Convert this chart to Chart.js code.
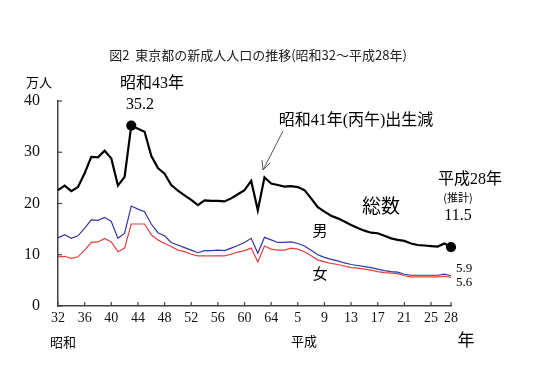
<!DOCTYPE html>
<html>
<head>
<meta charset="utf-8">
<script src="https://cdn.jsdelivr.net/npm/chart.js@4/dist/chart.umd.min.js"></script>
<style>
html,body{margin:0;padding:0;background:#fff;}
#wrap{width:534px;height:378px;}
</style>
</head>
<body>
<div id="wrap"><canvas id="c" width="534" height="378"></canvas></div>
<script>
// ---- data ----
const categories = ['32','33','34','35','36','37','38','39','40','41','42','43','44','45','46','47','48','49','50','51','52','53','54','55','56','57','58','59','60','61','62','63','64',
  '2','3','4','5','6','7','8','9','10','11','12','13','14','15','16','17','18','19','20','21','22','23','24','25','26','27','28'];
const totalValues = [22.6,23.5,22.4,23.2,25.9,29.1,29.0,30.3,28.8,23.5,25.2,35.2,34.6,34.0,29.3,26.9,25.8,23.6,22.5,21.6,20.7,19.7,20.6,20.5,20.5,20.4,21.0,21.8,22.6,24.4,18.7,25.1,23.9,23.6,23.3,23.4,23.2,22.6,21.0,19.3,18.4,17.6,17.1,16.5,15.8,15.2,14.7,14.3,14.2,13.7,13.2,12.9,12.7,12.2,11.9,11.8,11.7,11.6,12.2,11.5];
const maleValues = [13.3,13.9,13.2,13.7,15.2,16.8,16.7,17.3,16.5,13.2,14.2,19.5,18.9,18.4,16.0,14.3,13.7,12.4,11.9,11.4,10.9,10.4,10.8,10.8,10.9,10.8,11.3,11.8,12.4,13.2,10.3,13.4,12.9,12.4,12.4,12.5,12.2,11.7,10.9,10.0,9.5,9.1,8.8,8.4,8.1,7.9,7.7,7.5,7.2,6.9,6.7,6.6,6.2,6.0,6.0,6.0,6.0,6.0,6.2,5.9];
const femaleValues = [9.6,9.7,9.3,9.6,10.9,12.4,12.5,13.2,12.5,10.6,11.3,16.0,16.0,16.0,13.9,12.9,12.2,11.6,10.9,10.6,10.1,9.8,9.8,9.8,9.8,9.8,10.1,10.5,10.8,11.3,8.6,11.7,11.1,10.9,10.9,11.3,11.1,10.6,9.8,9.0,8.6,8.3,8.1,7.8,7.5,7.4,7.2,7.0,6.7,6.5,6.4,6.3,5.9,5.7,5.7,5.7,5.7,5.7,5.8,5.6];
const shownTickIndex = [0,4,8,12,16,20,24,28,32,36,40,44,48,52,56,59];
const markedIndex = [11,59];
const yTicks = [0,10,20,30,40];

const titleText = '図2  東京都の新成人人口の推移(昭和32～平成28年)';

const SERIF = '"Liberation Serif","Noto Sans CJK JP"';
const GOTHIC = '"Noto Sans CJK JP"';

const annot = {
  id: 'annot',
  afterDraw(chart) {
    const c = chart.ctx, xs = chart.scales.x, ys = chart.scales.y, a = chart.chartArea;
    c.save();
    // inward tick marks
    c.strokeStyle = '#444'; c.lineWidth = 1.2;
    yTicks.forEach(v => { const py = ys.getPixelForValue(v); c.beginPath(); c.moveTo(a.left, py); c.lineTo(a.left + 4, py); c.stroke(); });
    shownTickIndex.forEach(i => { const px = xs.getPixelForValue(i); c.beginPath(); c.moveTo(px, a.bottom); c.lineTo(px, a.bottom - 4); c.stroke(); });

    c.fillStyle = '#000'; c.textAlign = 'center'; c.textBaseline = 'middle';
    // title
    c.font = '13px ' + GOTHIC; c.fillStyle = '#222';
    c.fillText(titleText, 258, 55);
    c.fillStyle = '#000';
    // unit
    c.font = '13px ' + GOTHIC; c.fillText('万人', 39, 82);
    // era labels
    c.font = '13px ' + GOTHIC;
    c.fillText('昭和', 63, 342);
    c.fillText('平成', 304, 341);
    c.font = '17px ' + GOTHIC; c.fillText('年', 466, 340);
    // peak
    c.font = '16px ' + SERIF; c.fillText('昭和43年', 152, 84);
    c.fillText('35.2', 140, 105);
    // hinoeuma
    c.fillText('昭和41年(丙午)出生減', 356, 121);
    // arrow
    c.strokeStyle = '#555'; c.lineWidth = 1;
    c.beginPath(); c.moveTo(283, 131); c.lineTo(263, 170); c.stroke();
    c.beginPath(); c.moveTo(263, 170); c.lineTo(262, 160); c.moveTo(263, 170); c.lineTo(270, 163); c.stroke();
    // latest
    c.fillText('平成28年', 470, 180);
    c.font = '11px ' + GOTHIC; c.fillText('(推計)', 458, 198);
    c.font = '16px ' + SERIF; c.fillText('11.5', 458, 216);
    // series labels
    c.font = '19px ' + GOTHIC; c.fillText('総数', 381, 206);
    c.font = '15px ' + GOTHIC; c.fillText('男', 320, 230); c.fillText('女', 320, 273);
    c.font = '13px ' + SERIF; c.fillText('5.9', 464, 269); c.fillText('5.6', 464, 283);
    c.restore();
  }
};

new Chart(document.getElementById('c'), {
  type: 'line',
  data: {
    labels: categories,
    datasets: [
      { label: '総数', data: totalValues, borderColor: '#000', borderWidth: 2.2, tension: 0,
        pointRadius: ctx => markedIndex.includes(ctx.dataIndex) ? 4 : 0,
        pointBackgroundColor: '#000', pointBorderColor: '#000' },
      { label: '男', data: maleValues, borderColor: '#3434a4', borderWidth: 1.2, tension: 0, pointRadius: 0 },
      { label: '女', data: femaleValues, borderColor: '#e04040', borderWidth: 1.2, tension: 0, pointRadius: 0 }
    ]
  },
  options: {
    responsive: false, animation: false,
    layout: { padding: { top: 101, right: 83, left: 0, bottom: 0 } },
    plugins: { legend: { display: false }, tooltip: { enabled: false }, title: { display: false } },
    scales: {
      x: {
        type: 'category', offset: false,
        grid: { display: false, drawTicks: false },
        border: { display: true, color: '#444', width: 1.5 },
        afterFit: s => { s.height = 72; },
        ticks: {
          autoSkip: false, maxRotation: 0, padding: 4, color: '#111',
          font: { family: SERIF, size: 14 },
          callback: (v, i) => shownTickIndex.includes(i) ? categories[i] : ''
        }
      },
      y: {
        min: 0, max: 40,
        grid: { display: false, drawTicks: false },
        border: { display: true, color: '#444', width: 1.5 },
        afterFit: s => { s.width = 58; },
        ticks: { stepSize: 10, padding: 18, color: '#111', font: { family: SERIF, size: 16 } }
      }
    }
  },
  plugins: [annot]
});
</script>
</body>
</html>
